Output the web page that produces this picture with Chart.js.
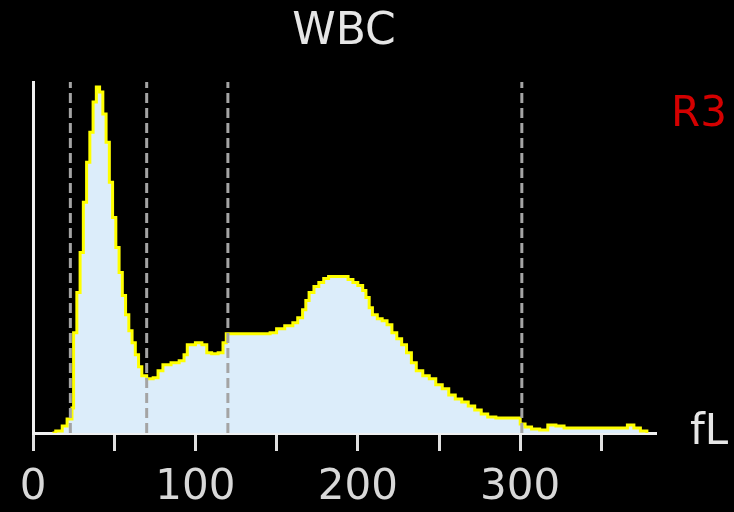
<!DOCTYPE html>
<html>
<head>
<meta charset="utf-8">
<script src="https://cdn.jsdelivr.net/npm/chart.js@4"></script>
<style>
  html, body { margin: 0; padding: 0; background: #000; }
  #wrap { width: 734px; height: 512px; }
</style>
</head>
<body>
<div id="wrap"><canvas id="c" width="734" height="512"></canvas></div>
<script>
// WBC volume histogram (fL) with discriminator lines
const volumes = [12, 14, 18, 21, 24, 25, 27, 29, 31, 33, 35, 37, 39, 41, 43, 45, 47, 49, 51, 53, 55, 57, 59, 61, 63, 65, 67, 70, 74, 77, 80, 85, 90, 93, 95, 100, 104, 107, 110, 114, 117, 119, 125, 130, 135, 140, 146, 150, 155, 160, 163, 166, 168, 170, 173, 176, 179, 182, 186, 190, 194, 197, 200, 203, 205, 207, 209, 212, 215, 218, 221, 224, 227, 230, 233, 236, 240, 244, 248, 252, 256, 260, 264, 268, 272, 276, 280, 285, 290, 295, 300, 303, 307, 312, 317, 322, 327, 335, 345, 355, 362, 366, 370, 374, 378];
const counts = [0, 2, 7, 14, 25, 100, 140, 180, 230, 270, 300, 330, 345, 340, 318, 290, 250, 215, 185, 160, 137, 118, 102, 90, 78, 66, 57, 54, 55, 62, 68, 70, 72, 78, 88, 90, 88, 80, 79, 80, 90, 99, 99, 99, 99, 99, 100, 104, 107, 110, 115, 123, 132, 140, 146, 150, 154, 156, 156, 156, 153, 150, 147, 142, 135, 125, 118, 114, 112, 108, 100, 94, 88, 80, 70, 62, 57, 54, 48, 44, 38, 34, 31, 27, 23, 19, 16, 15, 15, 15, 9, 6, 4, 3, 8, 7, 5, 5, 5, 5, 5, 8, 5, 2, 0];
const discriminators = [23, 70, 120, 301];
const tickLabels = [0, 100, 200, 300];

const yMax = 350;
const xMax = 383;

const histogram = volumes.map((v, i) => ({ x: v, y: counts[i] }));

const dashDatasets = discriminators.map(d => ({
  type: 'line',
  data: [{ x: d, y: 0 }, { x: d, y: yMax }],
  borderColor: '#a4a4a4',
  borderWidth: 3,
  borderDash: [10, 5],
  pointRadius: 0,
  fill: false,
  order: 0
}));

const textPlugin = {
  id: 'labels',
  afterDraw(chart) {
    const ctx = chart.ctx;
    ctx.save();
    ctx.textBaseline = 'middle';
    ctx.font = '44px "DejaVu Sans"';
    ctx.fillStyle = '#e6e6e6';
    ctx.textAlign = 'center';
    ctx.fillText('WBC', 344, 33);
    ctx.font = '42px "DejaVu Sans"';
    ctx.textAlign = 'left';
    ctx.fillStyle = '#d40000';
    ctx.fillText('R3', 671, 115);
    ctx.fillStyle = '#e6e6e6';
    ctx.fillText('fL', 690, 433);
    ctx.restore();
  }
};

new Chart(document.getElementById('c'), {
  type: 'line',
  data: {
    datasets: [
      ...dashDatasets,
      {
        data: histogram,
        stepped: true,
        borderColor: '#ffff00',
        borderWidth: 3,
        backgroundColor: '#dcedfa',
        fill: 'origin',
        pointRadius: 0,
        order: 1
      }
    ]
  },
  options: {
    responsive: false,
    animation: false,
    layout: { padding: { left: 33, right: 79, top: 82, bottom: 0 } },
    plugins: { legend: { display: false }, tooltip: { enabled: false }, title: { display: false } },
    scales: {
      x: {
        type: 'linear',
        min: 0,
        max: xMax,
        afterFit(scale) { scale.height = 79; },
        border: { display: true, color: '#f0f0f0', width: 3 },
        grid: { display: true, drawOnChartArea: false, drawTicks: true, tickLength: 18, color: '#e0e0e0', lineWidth: 3 },
        ticks: {
          stepSize: 50,
          includeBounds: false,
          autoSkip: false,
          maxRotation: 0,
          padding: 12,
          color: '#d8d8d8',
          font: { family: 'DejaVu Sans', size: 42 },
          callback: v => tickLabels.includes(v) ? String(v) : ''
        }
      },
      y: {
        min: 0,
        max: yMax,
        afterFit(scale) { scale.width = 0; },
        border: { display: true, color: '#f0f0f0', width: 3 },
        grid: { display: false },
        ticks: { display: false }
      }
    }
  },
  plugins: [textPlugin]
});
</script>
</body>
</html>
